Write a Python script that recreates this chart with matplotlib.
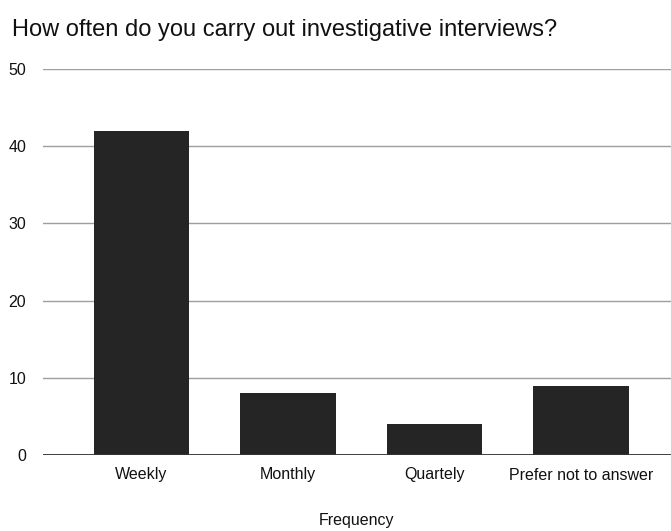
import matplotlib.pyplot as plt

# survey responses per frequency option
categories = ["Weekly", "Monthly", "Quartely", "Prefer not to answer"]
counts = [42, 8, 4, 9]
yticks = [0, 10, 20, 30, 40, 50]

plt.rcParams["font.family"] = ["Liberation Sans", "DejaVu Sans"]

fig = plt.figure(figsize=(6.71, 5.31), dpi=100)
ax = fig.add_axes([43 / 671, 76 / 531, 628 / 671, 386 / 531])

x = range(len(categories))
ax.bar(x, counts, width=0.65, color="#252525", zorder=3)

ax.set_xlim(-0.672, 3.614)
ax.set_ylim(0, 50)
ax.set_yticks(yticks)
ax.set_xticks(list(x))
ax.set_xticklabels(categories)
ax.grid(axis="y", color="#9e9e9e", linewidth=1, zorder=0)
ax.axhline(0, color="#333333", linewidth=1.3, zorder=4)

for s in ax.spines.values():
    s.set_visible(False)
ax.tick_params(axis="both", length=0, labelsize=11.5, colors="#111111")
ax.tick_params(axis="y", pad=12)
ax.tick_params(axis="x", pad=9)

fig.text(357 / 671, 1 - 520 / 531, "Frequency", fontsize=11.5, ha="center", va="center",
         color="#111111")
fig.text(12 / 671, 1 - 30 / 531, "How often do you carry out investigative interviews?",
         fontsize=17, va="center", ha="left", color="#111111")

fig.savefig("out.png", dpi=100)
